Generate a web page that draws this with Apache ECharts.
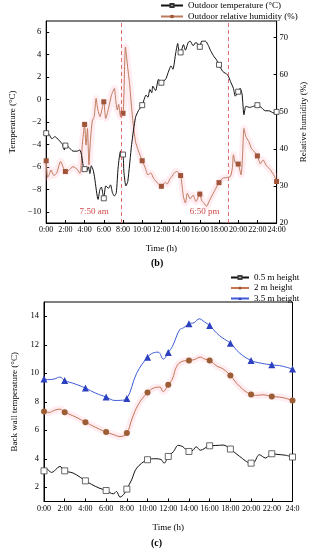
<!DOCTYPE html>
<html><head><meta charset="utf-8">
<script src="https://cdn.jsdelivr.net/npm/echarts@6/dist/echarts.min.js"></script>
<style>html,body{margin:0;padding:0;background:#fff}#c{width:316px;height:550px}</style>
</head><body><div id="c"></div>
<script>
// ---- Chart (b): outdoor temperature & relative humidity ----
const timeTickLabels = ['0:00','2:00','4:00','6:00','8:00','10:00','12:00','14:00','16:00','18:00','20:00','22:00','24:00'];
const timeTickLabelsC = ['0:00','2:00','4:00','6:00','8:00','10:00','12:00','14:00','16:00','18:00','20:00','22:00','24:0'];

const tempHours = [0,0.3,0.6,0.9,1.3,1.7,1.9,2,2.3,2.8,3.2,3.5,3.7,3.85,4,4.2,4.4,4.55,4.7,4.9,5.05,5.4,5.6,5.75,5.9,6,6.2,6.5,6.7,6.9,7.1,7.3,7.5,7.75,8,8.1,8.3,8.5,8.9,9.3,9.6,10,10.4,10.6,10.8,11,11.1,11.4,11.7,12,12.2,12.5,12.7,13,13.2,13.5,13.7,13.85,14,14.3,14.5,14.8,15,15.3,15.6,16,16.2,16.6,16.9,17.1,17.5,17.7,18,18.4,18.9,19.2,19.5,19.7,20,20.2,20.4,20.6,20.8,21.2,21.6,22,22.4,22.8,23.2,23.7,24];
const tempValues = [-3.0,-3.1,-3.5,-3.3,-3.6,-4.0,-4.5,-4.1,-4.2,-4.6,-4.6,-4.5,-5.0,-5.9,-6.2,-6.4,-6.0,-6.6,-5.9,-6.3,-7.0,-8.9,-8.0,-7.8,-8.4,-8.8,-7.7,-7.9,-7.6,-8.3,-8.6,-8.3,-6.0,-4.6,-4.9,-6.5,-7.7,-7.3,-4.0,-1.6,-1.0,-0.5,0.4,0.2,0.9,0.6,1.2,0.8,1.8,1.5,1.6,1.9,2.4,3.0,2.7,4.2,5.0,4.2,4.2,4.9,4.4,5.1,5.2,4.8,5.1,4.7,5.2,5.2,4.8,4.4,3.8,3.6,3.1,2.5,2.2,1.6,1.0,0.3,0.7,1.0,0.5,-1.35,-0.6,-0.7,-0.6,-0.5,-0.7,-1.0,-1.0,-1.2,-1.1];

const humHours = [0,0.15,0.3,0.5,0.8,1.1,1.5,2,2.3,2.8,3.3,3.5,3.6,3.75,4,4.15,4.3,4.45,4.6,4.8,5,5.2,5.35,5.6,6,6.2,6.5,6.8,7.1,7.25,7.4,7.55,7.75,8,8.1,8.25,8.5,8.7,9,9.3,9.6,10,10.3,10.6,10.9,11.2,11.6,12,12.4,12.6,12.9,13.1,13.3,13.6,14,14.2,14.3,14.5,14.7,15,15.3,15.6,16,16.2,16.4,16.7,17,17.5,18,18.4,18.9,19.2,19.4,19.5,19.7,20,20.3,20.45,20.6,20.8,21.1,21.4,21.6,22,22.3,22.6,22.9,23.3,23.7,24];
const humValues = [36.8,32.3,33.0,34.3,32.8,33.5,36.6,33.9,34.1,35.2,34.3,33.4,34.0,40.6,46.6,41.0,45.5,35.7,42.0,47.5,48.7,53.6,51.0,48.7,52.7,48.2,51.0,54.5,56.3,53.0,50.5,52.0,48.7,49.6,55.0,67.5,61.7,57.2,48.2,42.0,39.5,36.8,35.0,33.0,33.5,32.0,30.8,29.9,31.0,30.5,32.0,32.5,33.4,33.9,32.8,29.0,27.0,25.4,28.0,26.5,27.5,25.8,27.8,26.0,25.5,24.5,26.0,28.5,30.9,32.1,32.3,32.6,35.0,38.4,36.2,35.9,33.0,38.0,45.5,43.3,42.0,40.0,39.5,38.1,36.0,37.0,35.6,34.5,33.0,31.2];

const eventLines = [7.8, 18.95];
const eventLabels = ['7:50 am', '6:50 pm'];
const eventLabelPos = [[5.0, -10], [16.5, -10]];

// ---- Chart (c): back wall temperature ----
const h05Hours = [0,0.2,0.74,1.54,2,2.8,3.5,4,4.6,5.3,6,6.7,7.0,7.34,7.7,8,8.46,8.95,10,10.8,11.3,11.6,12,12.5,12.96,13.4,14,14.4,14.7,15.1,16,16.6,17.3,18,18.9,20,20.3,20.8,21.4,22,22.6,23.3,24];
const h05Values = [3.15,3.3,3.04,3.46,3.15,3.0,2.7,2.45,2.2,1.95,1.77,1.54,1.7,1.31,1.5,1.87,2.52,3.34,3.93,4.0,3.95,3.69,4.16,4.5,4.94,4.85,4.51,4.6,4.84,4.6,4.91,4.93,4.96,4.68,4.16,3.69,3.75,4.28,4.05,4.35,4.3,4.25,4.12];
const h2Hours = [0,0.5,1.0,1.54,2,3,4,5,6,6.7,7.34,8,8.5,9.1,10,10.6,11.2,11.5,12,12.4,12.8,13.3,14,14.5,15.1,15.5,16,16.7,17.3,18,18.9,20,20.6,21.1,22,23,24];
const h2Values = [7.32,7.25,7.4,7.48,7.27,6.95,6.57,6.2,5.87,5.7,5.56,5.8,6.8,7.79,8.65,8.96,9.03,8.72,9.19,9.6,10.47,10.82,10.9,10.95,11.13,11.0,10.9,10.5,10.3,9.84,9.07,8.51,8.45,8.49,8.37,8.3,8.09];
const h35Hours = [0,0.5,1.0,1.54,2,3,4,5,6,6.85,7.4,8,8.95,10,10.5,11.03,11.52,12,12.4,13.1,13.5,14,14.5,15,15.5,16,16.67,17.2,18,18.9,20,21,22,23,24];
const h35Values = [9.59,9.55,9.6,9.73,9.49,9.25,8.96,8.6,8.33,8.09,8.1,8.23,10.0,11.13,11.41,11.48,10.99,11.46,11.88,13.05,13.2,13.47,13.55,13.82,13.6,13.35,12.82,12.5,12.11,11.41,10.9,10.7,10.59,10.5,10.29];

const zip = (xs, ys) => xs.map((x, i) => [x, ys[i]]);
const onEven = v => Math.abs(v[0] - Math.round(v[0] / 2) * 2) < 1e-6;
const markSize = s => (v => onEven(v) ? s : 0);
const minus = v => String(v).replace('-', '\u2212');
const F = 'Liberation Serif';

const axisCommon = {
  axisLine: { show: true, onZero: false, lineStyle: { color: '#000', width: 1 } },
  axisTick: { show: true, inside: true, length: 3, lineStyle: { color: '#000' } },
  axisLabel: { color: '#000', fontSize: 8, fontFamily: F, hideOverlap: false },
  splitLine: { show: false },
  nameTextStyle: { color: '#000', fontSize: 9, fontFamily: F },
  nameLocation: 'middle'
};

const chart = echarts.init(document.getElementById('c'), null, { renderer: 'canvas' });
chart.setOption({
  animation: false,
  backgroundColor: '#fff',
  textStyle: { fontFamily: F },
  title: [
    { text: '(b)', left: 151, top: 258, padding: 0, textStyle: { fontSize: 10, fontWeight: 'bold', color: '#000', fontFamily: F } },
    { text: '(c)', left: 151, top: 538, padding: 0, textStyle: { fontSize: 10, fontWeight: 'bold', color: '#000', fontFamily: F } }
  ],
  legend: [
    { data: ['Outdoor temperature (°C)', 'Outdoor relative humidity (%)'], orient: 'vertical', left: 160, top: 1, padding: 0,
      itemWidth: 22, itemHeight: 4, itemGap: 2, textStyle: { fontSize: 9, color: '#000', fontFamily: F } },
    { data: ['0.5 m height', '2 m height', '3.5 m height'], orient: 'vertical', left: 230, top: 273, padding: 0,
      itemWidth: 18, itemHeight: 4, itemGap: 1.5, textStyle: { fontSize: 9, color: '#000', fontFamily: F } }
  ],
  grid: [
    { left: 35, top: 21, width: 252, height: 202, show: true, borderColor: '#000', borderWidth: 1, backgroundColor: 'transparent' },
    { left: 44, top: 302, width: 248.5, height: 199.5, show: true, borderColor: '#000', borderWidth: 1, backgroundColor: 'transparent' }
  ],
  xAxis: [
    Object.assign({}, axisCommon, { gridIndex: 0, type: 'value', min: 0, max: 24, interval: 2, name: 'Time (h)', nameGap: 21,
      axisLabel: Object.assign({}, axisCommon.axisLabel, { margin: 3, showMinLabel: true, showMaxLabel: true, formatter: v => timeTickLabels[Math.round(v / 2)] }) }),
    Object.assign({}, axisCommon, { gridIndex: 1, type: 'value', min: 0, max: 24, interval: 2, name: 'Time (h)', nameGap: 22,
      axisLabel: Object.assign({}, axisCommon.axisLabel, { margin: 3, showMinLabel: true, showMaxLabel: true, formatter: v => timeTickLabelsC[Math.round(v / 2)] }) })
  ],
  yAxis: [
    Object.assign({}, axisCommon, { gridIndex: 0, type: 'value', min: -11, max: 7, splitNumber: 9, position: 'left',
      name: 'Temperature (°C)', nameGap: 22,
      axisLabel: Object.assign({}, axisCommon.axisLabel, { fontSize: 8.5, margin: 5, showMinLabel: false, showMaxLabel: false, formatter: minus }) }),
    Object.assign({}, axisCommon, { gridIndex: 0, type: 'value', min: 20, max: 74.5, interval: 10, position: 'right',
      name: 'Relative humidity (%)', nameGap: 15,
      axisLabel: Object.assign({}, axisCommon.axisLabel, { fontSize: 8.5, margin: 3, showMaxLabel: false }) }),
    Object.assign({}, axisCommon, { gridIndex: 1, type: 'value', min: 1, max: 15, splitNumber: 7, position: 'left',
      name: 'Back wall temperature (°C)', nameGap: 17,
      axisLabel: Object.assign({}, axisCommon.axisLabel, { fontSize: 8.5, margin: 5, showMinLabel: false, showMaxLabel: false }) })
  ],
  series: [
    { name: 'humBand', type: 'line', xAxisIndex: 0, yAxisIndex: 1, data: zip(humHours, humValues), smooth: 0.2,
      showSymbol: false, silent: true, lineStyle: { color: 'rgba(255,175,195,0.22)', width: 7 }, z: 1 },
    { name: 'Outdoor relative humidity (%)', type: 'line', xAxisIndex: 0, yAxisIndex: 1, data: zip(humHours, humValues),
      smooth: 0.2, symbol: 'rect', symbolSize: markSize(5), showAllSymbol: true,
      lineStyle: { color: '#bf7a5c', width: 1 }, itemStyle: { color: '#a0553a' }, z: 3 },
    { name: 'Outdoor temperature (°C)', type: 'line', xAxisIndex: 0, yAxisIndex: 0, data: zip(tempHours, tempValues),
      smooth: 0.2, symbol: 'rect', symbolSize: markSize(5), showAllSymbol: true,
      lineStyle: { color: '#111', width: 1 }, itemStyle: { color: '#fff', borderColor: '#333', borderWidth: 0.8 }, z: 4,
      markLine: { silent: true, symbol: 'none', label: { show: false },
        lineStyle: { color: '#e07070', type: [4, 3], width: 1 },
        data: eventLines.map(x => ({ xAxis: x })) },
      markPoint: { silent: true, symbol: 'rect', symbolSize: 1, itemStyle: { color: 'rgba(0,0,0,0)' },
        label: { show: true, position: 'inside', formatter: '{b}', color: '#d04848', fontSize: 9, fontFamily: F },
        data: eventLabels.map((t, i) => ({ name: t, coord: eventLabelPos[i] })) } },

    { name: 'band2', type: 'line', xAxisIndex: 1, yAxisIndex: 2, data: zip(h2Hours, h2Values), smooth: 0.4,
      showSymbol: false, silent: true, lineStyle: { color: 'rgba(255,175,195,0.22)', width: 7 }, z: 1 },
    { name: '0.5 m height', type: 'line', xAxisIndex: 1, yAxisIndex: 2, data: zip(h05Hours, h05Values), smooth: 0.35,
      symbol: 'rect', symbolSize: markSize(6), showAllSymbol: true,
      lineStyle: { color: '#111', width: 1 }, itemStyle: { color: '#fff', borderColor: '#444', borderWidth: 0.8 }, z: 3 },
    { name: '2 m height', type: 'line', xAxisIndex: 1, yAxisIndex: 2, data: zip(h2Hours, h2Values), smooth: 0.4,
      symbol: 'circle', symbolSize: markSize(6), showAllSymbol: true,
      lineStyle: { color: '#c47452', width: 1 }, itemStyle: { color: '#9c5e35' }, z: 3 },
    { name: '3.5 m height', type: 'line', xAxisIndex: 1, yAxisIndex: 2, data: zip(h35Hours, h35Values), smooth: 0.4,
      symbol: 'triangle', symbolSize: markSize(7), showAllSymbol: true,
      lineStyle: { color: '#3d5bd6', width: 1 }, itemStyle: { color: '#2c40c0' }, z: 3 }
  ]
});
</script>
</body></html>
